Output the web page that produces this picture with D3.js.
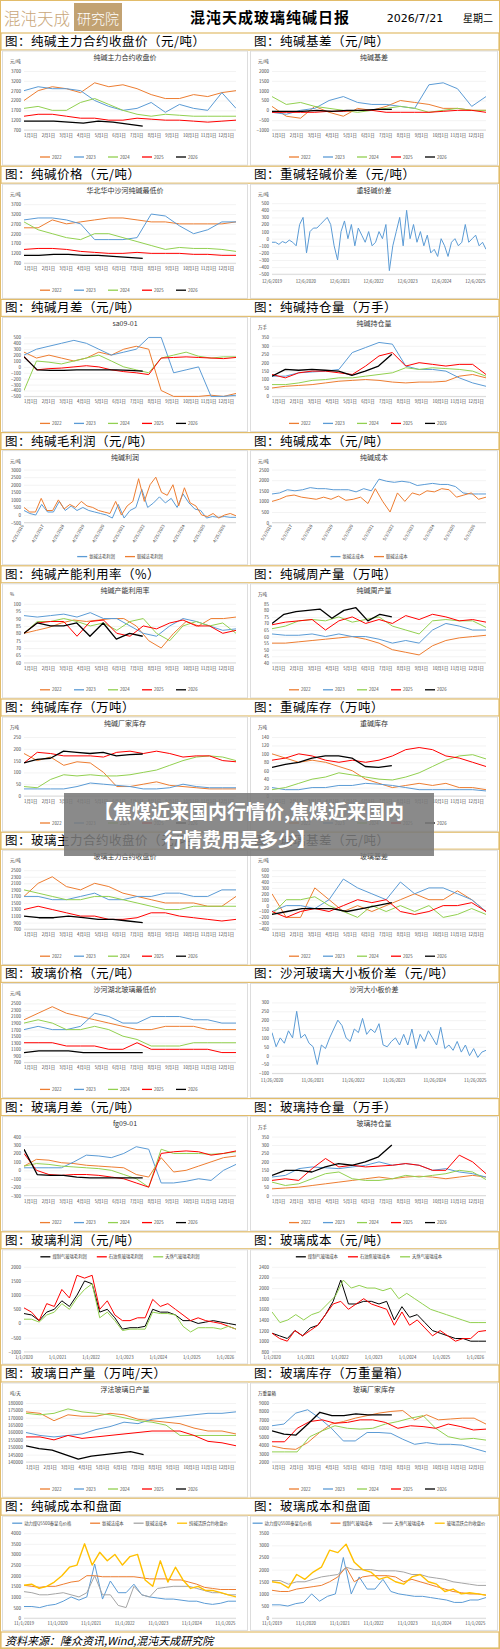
<!DOCTYPE html>
<html><head><meta charset="utf-8">
<script src="https://cdn.jsdelivr.net/npm/d3@7/dist/d3.min.js"></script>
<style>body{margin:0;background:#fff}svg{display:block}</style>
</head><body><svg id="c" width="500" height="1649"></svg>
<script>
// ---------- data ----------
const months = ["1月1日","2月1日","3月1日","4月1日","5月1日","6月1日","7月1日","8月1日","9月1日","10月1日","11月1日","12月1日"];
const years = ["2022","2023","2024","2025","2026"];
const span2026 = 0.56;

const saClose2022=[2200,2700,2900,2800,2600,3100,2900,3000,2800,2500,2300,2300,2500,2400,2600,2700];
const saClose2023=[2700,2900,2800,2800,2700,2200,1900,1700,1800,2100,1600,2000,1800,1700,2600,1800];
const saClose2024=[1800,1900,1700,1700,2100,2300,2000,1700,1500,1400,1500,1450,1400,1400,1400,1400];
const saClose2025=[1400,1500,1500,1400,1300,1300,1200,1200,1300,1250,1200,1200,1150,1100,1150,1200];
const saClose2026=[1150,1150,1150,1100,1050,1150,1100,1000,900];

const saBasis2022=[200,-300,-400,200,-100,-300,100,0,200,500,400,300,100,100,0,0];
const saBasis2023=[-100,-200,0,100,500,700,400,300,300,200,100,1300,1400,1100,200,700];
const saBasis2024=[700,300,400,200,100,0,-100,0,100,200,100,-100,0,100,0,0];
const saBasis2025=[-100,-100,-100,-100,-50,-50,0,0,-100,-100,-100,-100,-50,0,0,-100];
const saBasis2026=[-50,-50,-50,0,-50,0,0,50,50];

const saSpot2022=[2500,2500,2900,2700,2800,2900,3000,3000,2900,2800,2800,2700,2700,2700,2700,2800];
const saSpot2023=[2900,3000,3000,2900,2700,1900,1900,1900,2000,3200,3100,2600,2200,2400,2800,2800];
const saSpot2024=[2800,2400,2200,2000,1900,2200,2200,2000,1800,1600,1400,1500,1450,1450,1400,1300];
const saSpot2025=[1400,1450,1450,1400,1300,1250,1200,1200,1250,1200,1200,1200,1150,1150,1100,1100];
const saSpot2026=[1100,1100,1150,1150,1100,1100,1050,1000,950];

const heavyLightLabels=["12/6/2019","12/6/2020","12/6/2021","12/6/2022","12/6/2023","12/6/2024","12/6/2025"];
const heavyLightSpread=[-50,-50,-80,-40,-60,-20,-50,-100,200,300,-200,100,150,150,200,250,300,200,-100,-300,100,250,0,200,-100,150,50,-50,100,-100,-50,100,0,200,-450,-100,100,300,-100,400,0,200,-50,100,-100,50,-200,-150,-250,0,-100,-250,-50,0,-100,-50,200,-50,0,50,-100,-50,-150];

const sa0901_2022=[250,150,200,150,100,150,250,200,300,350,300,-400,-500,-500,-500,-480,-500,-450];
const sa0901_2023=[200,300,350,400,450,400,300,200,250,300,500,500,-100,-50,0,-500,-500,-480];
const sa0901_2024=[-400,100,80,50,100,150,200,100,0,-50,-100,150,200,250,180,150,170,170];
const sa0901_2025=[180,-50,-30,-20,0,20,0,-50,-80,-100,-130,150,160,170,160,150,140,160];
const sa0901_2026=[170,-50,-60,-60,-50,-50,-50,-50,-60,-70];

const saOI2022=[50,60,65,70,80,90,95,100,95,85,80,85,85,90,120,130,110];
const saOI2023=[120,120,140,145,150,160,260,290,320,310,180,160,160,150,110,80,60];
const saOI2024=[70,70,80,95,100,110,110,120,130,140,170,160,170,165,160,150,120];
const saOI2025=[130,110,140,150,150,140,130,180,240,260,180,200,190,180,190,190,130];
const saOI2026=[120,160,155,160,155,150,125,150,180,250];

const saProfitLabels=["4/25/2016","4/25/2017","4/25/2018","4/25/2019","4/25/2020","4/25/2021","4/25/2022","4/25/2023","4/25/2024","4/25/2025","4/25/2026"];
const saProfitAmmonia=[300,100,0,700,200,200,900,300,600,300,500,300,200,100,0,-200,700,-200,300,500,1700,500,800,1200,800,1100,500,1400,800,400,300,-200,-100,-150,-100,-150,-150];
const saProfitJoint=[500,200,200,1100,300,300,1000,400,700,500,900,600,500,300,200,100,900,0,600,900,2400,900,2000,2500,1500,1300,2000,600,1800,800,600,0,-100,100,-200,0,100,-50];

const saCostLabels=["5/3/2016","5/3/2017","5/3/2018","5/3/2019","5/3/2020","5/3/2021","5/3/2022","5/3/2023","5/3/2024","5/3/2025","5/3/2026"];
const saCostAmmonia=[1350,1400,1550,1500,1550,1650,1600,1600,1550,1550,1550,1450,1600,1500,2050,1950,1900,1950,1900,1750,1800,1850,1800,1800,1700,1400,1350,1350,1350];
const saCostJoint=[1000,1100,1250,1300,1200,1150,1100,1200,1100,1250,1050,1100,1200,900,1600,1000,500,1400,1000,1400,1300,1500,1450,1600,1550,1200,1300,1400,1100,1200];

const saUtil2022=[80,82,84,87,89,88,89,90,90,85,75,70,80,88,85,90,90,91];
const saUtil2023=[92,91,92,93,91,94,90,90,85,80,78,85,90,88,85,82,83];
const saUtil2024=[80,88,88,90,88,85,87,82,88,90,80,75,85,88,85,87,80];
const saUtil2025=[80,87,88,88,78,88,89,80,78,85,83,87,89,85,85,80,82];
const saUtil2026=[80,87,85,85,87,78,87,76,80,78];

const saOut2022=[55,55,56,57,58,59,60,58,55,50,48,46,53,57,59,60,61];
const saOut2023=[62,61,61,62,60,62,60,60,58,55,57,55,65,70,68,65,65];
const saOut2024=[66,68,72,73,72,75,71,73,75,68,65,62,72,73,72,72,67];
const saOut2025=[69,71,72,73,65,72,75,70,73,70,76,73,77,75,72,73,71];
const saOut2026=[70,77,79,80,81,74,80,82,72,77,75];

const saInv2022=[180,150,165,130,145,140,100,40,40,50,60,45,40,35,30,30,30];
const saInv2023=[30,30,30,30,40,55,50,45,40,30,30,35,50,40,35,35,35];
const saInv2024=[40,35,70,90,85,90,85,85,90,100,110,130,150,165,170,165,150];
const saInv2025=[140,185,180,170,170,170,165,185,190,180,190,180,165,170,170,150,145];
const saInv2026=[140,155,160,190,185,180,185,170,175,178];

const hvInv2022=[100,90,80,85,80,70,60,40,30,20,25,30,25,30,20,20,15];
const hvInv2023=[20,15,15,20,20,25,25,30,28,25,20,15,15,15,15,15,12];
const hvInv2024=[15,20,30,40,45,55,50,45,40,38,45,55,70,85,95,98,88];
const hvInv2025=[85,90,100,95,85,80,85,80,85,95,110,115,110,95,90,80,70];
const hvInv2026=[68,75,80,90,95,95,90,70,68,72];

const fgClose2022=[1700,2100,2300,2000,1900,2100,2000,1800,1700,1600,1500,1500,1500,1400,1400,1700];
const fgClose2023=[1700,1700,1600,1600,1700,1800,1600,1600,1700,1700,1800,1800,1700,1700,1900,1900];
const fgClose2024=[1900,1800,1700,1600,1600,1700,1700,1600,1500,1400,1300,1300,1400,1400,1400,1400];
const fgClose2025=[1300,1400,1300,1200,1100,1100,1000,1000,1050,1200,1200,1100,1050,1000,950,1000];
const fgClose2026=[1100,1050,1050,1100,1050,1000,1000,950,900];

const fgBasis2022=[200,-200,-200,300,100,-100,0,-100,0,100,200,100,100,250,100,-100];
const fgBasis2023=[-100,0,0,-50,100,450,300,200,100,400,200,300,300,200,100,-100];
const fgBasis2024=[-150,100,100,150,0,-100,-200,0,-100,0,-100,0,-200,-150,-50,-150];
const fgBasis2025=[-100,-200,-100,-50,-100,0,100,50,100,-100,-150,-100,0,0,50,-100];
const fgBasis2026=[-150,-100,-50,-50,-50,-100,-50,0,50];

const fgSpot2022=[2000,2200,2400,2200,2100,2000,1900,1800,1700,1700,1800,1800,1800,1700,1700,1700];
const fgSpot2023=[1700,1800,1700,1700,1800,2200,2100,1900,1900,2100,2100,2100,2000,2000,1900,1900];
const fgSpot2024=[1900,2000,1900,1700,1700,1800,1700,1500,1400,1200,1200,1200,1300,1300,1300,1300];
const fgSpot2025=[1300,1300,1300,1200,1200,1200,1100,1100,1300,1100,1100,1100,1100,1100,1000,1000];
const fgSpot2026=[1000,1050,1050,1050,1000,1000,1000,1000,1000];

const plateLabels=["11/26/2020","11/26/2021","11/26/2022","11/26/2023","11/26/2024","11/26/2025"];
const plateSpread=[130,50,100,70,140,100,250,100,120,70,50,-50,60,40,100,150,200,170,100,80,150,130,210,120,150,130,180,60,50,80,100,60,120,60,150,40,120,80,140,100,60,160,40,60,30,80,20,60,0,40,-10,20,30];

const fg0901_2022=[50,130,120,90,80,60,50,40,30,-50,-80,150,-20,0,50,100,150,170];
const fg0901_2023=[30,30,30,30,100,180,170,150,200,280,250,-150,-150,-130,-100,-120,0,70];
const fg0901_2024=[50,80,70,50,40,30,20,0,-50,-100,-200,250,200,200,200,190,200,220];
const fg0901_2025=[200,0,-50,-60,-50,-50,-60,-80,-100,-150,-200,200,220,230,220,180,200,230];
const fg0901_2026=[250,-50,-60,-60,-80,-90,-90,-90,-90,-90];

const fgOI2022=[40,45,50,60,70,80,90,100,110,100,110,115,110,100,110,120,110];
const fgOI2023=[110,120,160,170,165,160,170,180,200,180,190,180,150,160,140,130,110];
const fgOI2024=[80,60,70,100,130,140,100,90,90,100,120,110,120,130,150,140,95];
const fgOI2025=[90,100,90,160,220,170,180,170,175,180,190,180,150,150,240,200,130];
const fgOI2026=[120,150,150,140,170,190,180,200,230,300];

const fgYearLabels=["1/1/2020","1/1/2021","1/1/2022","1/1/2023","1/1/2024","1/1/2025","1/1/2026"];
const fgProfitCoalGas=[350,300,100,400,500,800,600,1000,1500,1400,400,500,200,-200,-150,-150,-100,500,400,400,300,100,100,0,50,100,50,0,-50];
const fgProfitPetcoke=[550,400,100,700,600,1200,900,1700,1600,1700,500,800,300,100,100,200,200,850,600,700,500,300,100,200,100,50,0,-100,-200];
const fgProfitNatGas=[150,150,50,300,400,700,500,900,1200,1400,200,400,100,-250,-200,-200,-200,400,350,350,300,-100,-300,-150,-150,-150,-200,-100,-200];

const fgCostCoalGas=[1150,1100,1050,1200,1100,1250,1300,1500,1750,2150,1700,1700,1750,1750,1700,1750,1400,1650,1450,1500,1350,1200,1150,1100,1050,1050,1000,1000,1000];
const fgCostPetcoke=[1150,1050,1000,1200,1100,1200,1300,1500,1700,1750,1600,1700,1800,1700,1650,1600,1300,1550,1300,1400,1250,1100,1200,1100,1000,1050,1050,1180,1200];
const fgCostNatGas=[1550,1350,1400,1500,1400,1500,1550,1700,1850,2150,2000,2050,2000,2000,1950,2000,1800,1900,1800,1700,1600,1550,1500,1450,1400,1350,1350,1350];

const fgOut2022=[174000,173000,168000,172000,171000,171000,173000,172000,169000,168000,167000,166000,163000,161000,161000,159000];
const fgOut2023=[160000,158000,157000,158000,159000,162000,164000,167000,166000,169000,170000,171000,172000,173000,173000,174000];
const fgOut2024=[173000,172000,173000,176000,174000,173000,172000,170000,168000,167000,165000,158000,158000,158000,158000,158000];
const fgOut2025=[157000,157000,155000,158000,156000,157000,158000,159000,160000,161000,161000,161000,158000,154000,153000,151000];
const fgOut2026=[151000,149000,148000,145000,142000,144000,145000,146000,147000,145000];

const fgInv2022=[3900,3600,3500,4300,5500,6500,6800,7200,7500,7800,8000,8100,7000,7600,7000,7100,7200,7200,6500];
const fgInv2023=[6300,6500,7800,8200,7200,6000,4500,4500,5500,5500,5400,4700,4100,4300,4100,4100,4000,3600,3200];
const fgInv2024=[3200,3200,3200,5000,5700,6300,6000,5900,6000,6500,6800,7200,7500,6000,5000,4700,4800,4600];
const fgInv2025=[4400,4400,6000,6800,7000,6600,6700,7000,7000,6700,6000,6300,6200,6000,6500,6200,5800,5900];
const fgInv2026=[5700,5300,5200,6500,7900,7500,7500,7700,7600,7600,7600];

const mktLabels=["11/1/2019","11/1/2020","11/1/2021","11/1/2022","11/1/2023","11/1/2024","11/1/2025"];
const coalPrice=[550,550,500,600,650,800,1000,850,1000,2550,900,1750,1200,1200,1600,1100,1000,950,900,900,850,800,800,700,650,700,800,800];
const saAmmoniaCostL=[1550,1500,1450,1500,1500,1600,1700,1750,2000,2000,1950,1950,1950,1950,1950,1900,1850,1850,1850,1800,1800,1700,1600,1450,1400,1350,1350,1350];
const saJointCostL=[1250,1200,1100,1100,1150,1200,1100,1000,1200,2000,1100,1100,600,500,1500,1100,1000,1400,1450,1500,1500,1500,1400,1300,1200,1200,1100,1100];
const saActiveClose=[1550,1600,1400,1500,1700,2000,2400,2500,3500,2500,3100,2700,3000,2500,2900,3000,1800,1500,2700,1700,2400,1800,1400,1500,1300,1300,1200,1100,1000];
const coalPrice2=[550,550,500,600,650,1000,700,900,1000,2500,1000,1700,1200,1200,1600,1100,1000,950,900,900,850,800,750,650,650,750,750,850];
const fgCoalCostL=[1150,1100,1100,1200,1250,1300,1350,1500,1700,2100,1500,1700,1750,1750,1750,1700,1500,1600,1500,1400,1300,1200,1100,1050,1000,1000,950];
const fgGasCostL=[1550,1550,1400,1500,1500,1600,1700,1750,1800,2100,2000,2000,2000,1950,1950,1950,1900,1800,1800,1700,1650,1600,1500,1450,1400,1350,1350];
const fgActiveClose=[1500,1450,1250,1800,1600,1900,2100,2800,2700,3050,2300,2000,1900,1600,1700,1500,1400,1700,1800,1500,1400,1100,1200,1000,1050,1000,950];

// ---------- drawing ----------
const yearColors={"2022":"#ED7D31","2023":"#5B9BD5","2024":"#92D050","2025":"#FF0000","2026":"#000000"};
const gold="#E2BC6A";
const svg=d3.select("#c");
const FONT="'Noto Sans CJK SC','Noto Sans',sans-serif";

function season(arrs){return arrs.map((v,i)=>({name:years[i],color:yearColors[years[i]],values:v,span:i===4?span2026:1,w:i===4?1.3:1}));}
function ticks(a,b,s){return d3.range(a,b+s/2,s);}

const panels=[
 ["图：纯碱主力合约收盘价（元/吨）",{title:"纯碱主力合约收盘价",unit:"元/吨",type:"season",y:[700,3700],t:ticks(700,3700,500),series:season([saClose2022,saClose2023,saClose2024,saClose2025,saClose2026])}],
 ["图：纯碱基差（元/吨）",{title:"纯碱基差",unit:"元/吨",type:"season",y:[-1000,2000],t:ticks(-1000,2000,500),series:season([saBasis2022,saBasis2023,saBasis2024,saBasis2025,saBasis2026])}],
 ["图：纯碱价格（元/吨）",{title:"华北华中沙河纯碱最低价",unit:"元/吨",type:"season",y:[700,3700],t:ticks(700,3700,500),series:season([saSpot2022,saSpot2023,saSpot2024,saSpot2025,saSpot2026])}],
 ["图：重碱轻碱价差（元/吨）",{title:"重轻碱价差",unit:"元/吨",type:"ts",legend:"none",labels:heavyLightLabels,y:[-500,500],t:ticks(-500,500,100),series:[{name:"重轻碱价差",color:"#5B9BD5",values:heavyLightSpread}]}],
 ["图：纯碱月差（元/吨）",{title:"sa09-01",unit:"",type:"season",y:[-500,500],t:ticks(-500,500,100),series:season([sa0901_2022,sa0901_2023,sa0901_2024,sa0901_2025,sa0901_2026])}],
 ["图：纯碱持仓量（万手）",{title:"纯碱持仓量",unit:"万手",type:"season",y:[0,350],t:ticks(0,350,50),series:season([saOI2022,saOI2023,saOI2024,saOI2025,saOI2026])}],
 ["图：纯碱毛利润（元/吨）",{title:"纯碱利润",unit:"元/吨",type:"ts",legend:"bottom",rot:true,labels:saProfitLabels,y:[-500,3000],t:ticks(-500,3000,500),series:[{name:"氨碱法毛利润",color:"#5B9BD5",values:saProfitAmmonia},{name:"联碱法毛利润",color:"#ED7D31",values:saProfitJoint}]}],
 ["图：纯碱成本（元/吨）",{title:"纯碱成本",unit:"元/吨",type:"ts",legend:"bottom",rot:true,labels:saCostLabels,y:[0,2500],t:ticks(0,2500,500),series:[{name:"氨碱法成本",color:"#5B9BD5",values:saCostAmmonia},{name:"联碱法成本",color:"#ED7D31",values:saCostJoint}]}],
 ["图：纯碱产能利用率（%）",{title:"纯碱产能利用率",unit:"%",type:"season",y:[60,100],t:ticks(60,100,5),series:season([saUtil2022,saUtil2023,saUtil2024,saUtil2025,saUtil2026])}],
 ["图：纯碱周产量（万吨）",{title:"纯碱周产量",unit:"万吨",type:"season",y:[40,85],t:ticks(40,85,5),series:season([saOut2022,saOut2023,saOut2024,saOut2025,saOut2026])}],
 ["图：纯碱库存（万吨）",{title:"纯碱厂家库存",unit:"万吨",type:"season",y:[0,250],t:ticks(0,250,50),series:season([saInv2022,saInv2023,saInv2024,saInv2025,saInv2026])}],
 ["图：重碱库存（万吨）",{title:"重碱库存",unit:"万吨",type:"season",y:[0,140],t:ticks(0,140,20),series:season([hvInv2022,hvInv2023,hvInv2024,hvInv2025,hvInv2026])}],
 ["图：玻璃主力合约收盘价（元/吨）",{title:"玻璃主力合约收盘价",unit:"元/吨",type:"season",y:[700,2500],t:ticks(700,2500,200),series:season([fgClose2022,fgClose2023,fgClose2024,fgClose2025,fgClose2026])}],
 ["图：玻璃基差（元/吨）",{title:"玻璃基差",unit:"元/吨",type:"season",y:[-400,600],t:ticks(-400,600,100),series:season([fgBasis2022,fgBasis2023,fgBasis2024,fgBasis2025,fgBasis2026])}],
 ["图：玻璃价格（元/吨）",{title:"沙河湖北玻璃最低价",unit:"元/吨",type:"season",y:[700,2500],t:ticks(700,2500,200),series:season([fgSpot2022,fgSpot2023,fgSpot2024,fgSpot2025,fgSpot2026])}],
 ["图：沙河玻璃大小板价差（元/吨）",{title:"沙河大小板价差",unit:"",type:"ts",legend:"none",labels:plateLabels,y:[-100,300],t:ticks(-100,300,50),series:[{name:"沙河大小板价差",color:"#5B9BD5",values:plateSpread}]}],
 ["图：玻璃月差（元/吨）",{title:"fg09-01",unit:"",type:"season",y:[-300,400],t:ticks(-300,400,100),series:season([fg0901_2022,fg0901_2023,fg0901_2024,fg0901_2025,fg0901_2026])}],
 ["图：玻璃持仓量（万手）",{title:"玻璃持仓量",unit:"万手",type:"season",y:[0,350],t:ticks(0,350,50),series:season([fgOI2022,fgOI2023,fgOI2024,fgOI2025,fgOI2026])}],
 ["图：玻璃利润（元/吨）",{title:null,unit:"",type:"ts",legend:"top",labels:fgYearLabels,y:[-1000,2000],t:ticks(-1000,2000,500),series:[{name:"煤制气玻璃毛利润",color:"#000000",values:fgProfitCoalGas},{name:"石油焦玻璃毛利润",color:"#FF0000",values:fgProfitPetcoke},{name:"天然气玻璃毛利润",color:"#92D050",values:fgProfitNatGas}]}],
 ["图：玻璃成本（元/吨）",{title:null,unit:"",type:"ts",legend:"top",labels:fgYearLabels,y:[800,2400],t:ticks(800,2400,200),series:[{name:"煤制气玻璃成本",color:"#000000",values:fgCostCoalGas},{name:"石油焦玻璃成本",color:"#FF0000",values:fgCostPetcoke},{name:"天然气玻璃成本",color:"#92D050",values:fgCostNatGas}]}],
 ["图：玻璃日产量（万吨/天）",{title:"浮法玻璃日产量",unit:"吨/天",type:"season",y:[140000,180000],t:ticks(140000,180000,5000),series:season([fgOut2022,fgOut2023,fgOut2024,fgOut2025,fgOut2026])}],
 ["图：玻璃库存（万重量箱）",{title:"玻璃厂家库存",unit:"万重量箱",type:"season",y:[2000,9000],t:ticks(2000,9000,1000),series:season([fgInv2022,fgInv2023,fgInv2024,fgInv2025,fgInv2026])}],
 ["图：纯碱成本和盘面",{title:null,unit:"",type:"ts",legend:"top",labels:mktLabels,y:[0,4000],t:ticks(0,4000,500),series:[{name:"动力煤Q5500秦皇岛价格",color:"#5B9BD5",values:coalPrice},{name:"氨碱法成本",color:"#ED7D31",values:saAmmoniaCostL},{name:"联碱法成本",color:"#A5A5A5",values:saJointCostL},{name:"纯碱活跃合约收盘价",color:"#FFC000",values:saActiveClose,w:1.4}]}],
 ["图：玻璃成本和盘面",{title:null,unit:"",type:"ts",legend:"top",labels:mktLabels,y:[0,3500],t:ticks(0,3500,500),series:[{name:"动力煤Q5500秦皇岛价格",color:"#5B9BD5",values:coalPrice2},{name:"煤制气玻璃成本",color:"#ED7D31",values:fgCoalCostL},{name:"天然气玻璃成本",color:"#A5A5A5",values:fgGasCostL},{name:"玻璃活跃合约收盘价",color:"#FFC000",values:fgActiveClose,w:1.4}]}]
];

// header
svg.append("rect").attr("x",0.5).attr("y",0.5).attr("width",499).attr("height",1648).attr("fill","#fff").attr("stroke",gold);
svg.append("text").attr("x",4).attr("y",25).attr("font-family","'Noto Sans CJK SC',serif").attr("font-weight",300).attr("font-size",16.5).attr("fill","#C9A77A").attr("textLength",66).text("混沌天成");
svg.append("rect").attr("x",74).attr("y",3).attr("width",48).attr("height",28).attr("fill","#C2A272");
svg.append("text").attr("x",98).attr("y",24).attr("text-anchor","middle").attr("font-family","'Noto Sans CJK SC',serif").attr("font-weight",300).attr("font-size",14).attr("fill","#fff").text("研究院");
svg.append("text").attr("x",270).attr("y",23).attr("text-anchor","middle").attr("font-family","'Noto Sans CJK SC'").attr("font-weight","bold").attr("font-size",15).attr("letter-spacing",1).text("混沌天成玻璃纯碱日报");
svg.append("text").attr("x",415).attr("y",22).attr("text-anchor","middle").attr("font-family","'DejaVu Sans'").attr("font-size",11).text("2026/7/21");
svg.append("text").attr("x",478).attr("y",22).attr("text-anchor","middle").attr("font-family","'Noto Sans CJK SC'").attr("font-size",10).text("星期二");

const pitch=133.2;
panels.forEach((p,i)=>{
  const row=Math.floor(i/2), col=i%2;
  const by=33+pitch*row;
  const px=col?250:2, pw=col?248:246;
  if(col===0){
    svg.append("rect").attr("x",1).attr("y",by).attr("width",498).attr("height",17).attr("fill","#fff").attr("stroke",gold).attr("stroke-width",1.2);
  }
  svg.append("text").attr("x",col?254:5).attr("y",by+13).attr("font-family","'Noto Sans CJK SC'").attr("font-size",12.5).attr("letter-spacing",0.5).text(p[0]);
  const g=svg.append("g").attr("transform",`translate(${px},${by+17})`);
  g.append("rect").attr("x",0.5).attr("y",1).attr("width",pw-1).attr("height",pitch-19).attr("fill","#fff").attr("stroke","#ddd");
  drawChart(g,p[1],pw,pitch-19);
});

function drawChart(g,s,w,h){
  let top,bot,lab,leg,left=22,right=w-12;
  if(s.type==="season"){top=21;bot=80;lab=87;leg=107;}
  else if(s.legend==="none"){top=20;bot=91;lab=100;}
  else if(s.legend==="bottom"){top=20;bot=73;lab=76;leg=107;}
  else {top=18;bot=103;lab=110;leg=8;}
  if(s.y[1]>=10000) left=24;
  const y=d3.scaleLinear().domain(s.y).range([bot,top]);
  const x=d3.scaleLinear().domain([0,1]).range([left,right]);
  if(s.title) g.append("text").attr("x",w/2).attr("y",10).attr("text-anchor","middle").attr("font-family",FONT).attr("font-size",7).attr("fill","#333").text(s.title);
  if(s.unit) g.append("text").attr("x",8).attr("y",13).attr("font-family",FONT).attr("font-size",4.5).attr("fill","#333").text(s.unit);
  const ya=g.append("g").attr("transform",`translate(${left},0)`).call(d3.axisLeft(y).tickValues(s.t).tickSize(-(right-left)).tickFormat(d3.format("d")));
  ya.select(".domain").remove();
  ya.selectAll("line").attr("stroke","#e6e6e6").attr("stroke-width",0.5);
  ya.selectAll("text").attr("font-size",4.5).attr("font-family",FONT).attr("fill","#444").attr("x",-3);
  g.append("line").attr("x1",left).attr("x2",right).attr("y1",bot).attr("y2",bot).attr("stroke","#bbb").attr("stroke-width",0.5);
  const labels=s.type==="season"?months:s.labels;
  const n=labels.length;
  const xl=s.type==="season"?(i=>x(i/12)):(i=>x(i/(n-1)*0.95));
  labels.forEach((l,i)=>{
    const t=g.append("text").attr("font-family",FONT).attr("font-size",4.3).attr("fill","#444");
    if(s.rot){t.attr("transform",`translate(${xl(i)},${lab}) rotate(-60)`).attr("text-anchor","end").text(l);}
    else t.attr("x",xl(i)).attr("y",lab).attr("text-anchor",s.type==="season"?"start":"middle").text(l);
  });
  const clipId="c"+Math.random().toString(36).slice(2);
  g.append("clipPath").attr("id",clipId).append("rect").attr("x",left).attr("y",top-1).attr("width",right-left).attr("height",bot-top+2);
  const line=d3.line().x(d=>x(d[0])).y(d=>y(d[1]));
  s.series.forEach(se=>{
    const sp=se.span||1, m=se.values.length;
    const pts=se.values.map((v,i)=>[i/(m-1)*sp,v]);
    g.append("path").attr("clip-path",`url(#${clipId})`).attr("d",line(pts)).attr("fill","none").attr("stroke",se.color).attr("stroke-width",se.w||1).attr("stroke-linejoin","round");
  });
  if(leg!==undefined){
    const items=s.series;
    const tw=items.map(it=>12+it.name.length*(s.type==="season"?3:4.3)+10);
    const total=d3.sum(tw);
    let cx=w/2-total/2;
    items.forEach((it,k)=>{
      g.append("line").attr("x1",cx).attr("x2",cx+10).attr("y1",leg).attr("y2",leg).attr("stroke",it.color).attr("stroke-width",1.3);
      g.append("text").attr("x",cx+12).attr("y",leg+1.6).attr("font-family",FONT).attr("font-size",4.3).attr("fill","#444").text(it.name);
      cx+=tw[k];
    });
  }
}

// footer
svg.append("rect").attr("x",1).attr("y",1632).attr("width",498).attr("height",16).attr("fill","#fff").attr("stroke",gold).attr("stroke-width",1.2);
svg.append("text").attr("x",5).attr("y",1645).attr("font-family","'Noto Sans CJK SC'").attr("font-style","italic").attr("font-size",11).text("资料来源：隆众资讯,Wind,混沌天成研究院");

// banner overlay
svg.append("rect").attr("x",64).attr("y",793).attr("width",370).attr("height",63).attr("fill","#7a7a7a").attr("opacity",0.88);
svg.append("text").attr("x",249).attr("y",819).attr("text-anchor","middle").attr("font-family","'Noto Sans CJK SC'").attr("font-weight","bold").attr("font-size",19).attr("fill","#fff").text("【焦煤近来国内行情价,焦煤近来国内");
svg.append("text").attr("x",240).attr("y",847).attr("text-anchor","middle").attr("font-family","'Noto Sans CJK SC'").attr("font-weight","bold").attr("font-size",19).attr("fill","#fff").text("行情费用是多少】");
</script></body></html>
